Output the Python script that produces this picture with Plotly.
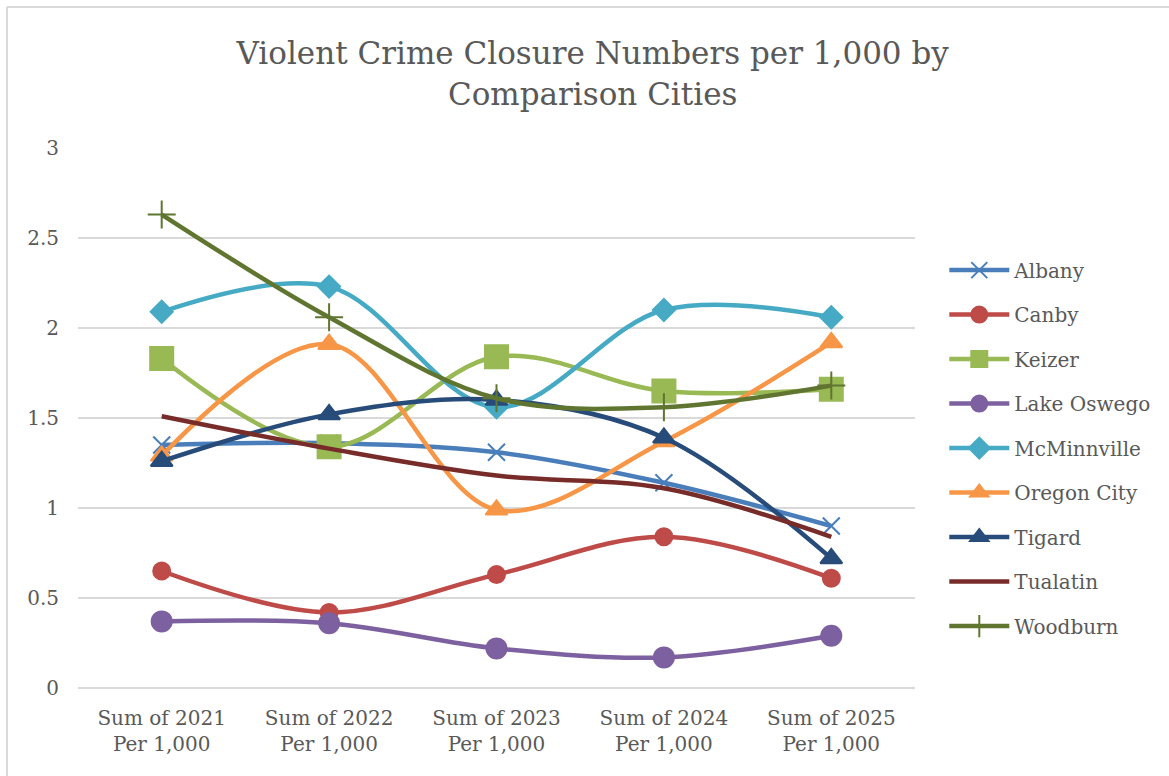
import plotly.graph_objects as go

categories = ["Sum of 2021<br>Per 1,000", "Sum of 2022<br>Per 1,000", "Sum of 2023<br>Per 1,000",
              "Sum of 2024<br>Per 1,000", "Sum of 2025<br>Per 1,000"]
y_ticks = [0, 0.5, 1, 1.5, 2, 2.5, 3]
y_tick_labels = ["0", "0.5", "1", "1.5", "2", "2.5", "3"]

albany = [1.35, 1.36, 1.31, 1.14, 0.90]
canby = [0.65, 0.42, 0.63, 0.84, 0.61]
keizer = [1.83, 1.34, 1.84, 1.65, 1.66]
lake_oswego = [0.37, 0.36, 0.22, 0.17, 0.29]
mcminnville = [2.09, 2.23, 1.56, 2.10, 2.06]
oregon_city = [1.29, 1.91, 0.99, 1.37, 1.92]
tigard = [1.26, 1.52, 1.60, 1.39, 0.72]
tualatin = [1.51, 1.33, 1.18, 1.11, 0.84]
woodburn = [2.63, 2.06, 1.61, 1.56, 1.68]

series = [
    ("Albany", albany, "#4A7EBB", "x-thin", 17),
    ("Canby", canby, "#BE4B48", "circle", 17),
    ("Keizer", keizer, "#98B954", "square", 23),
    ("Lake Oswego", lake_oswego, "#7D60A0", "circle", 20),
    ("McMinnville", mcminnville, "#46AAC5", "diamond", 17),
    ("Oregon City", oregon_city, "#F79646", "triangle-up", 19),
    ("Tigard", tigard, "#284C7A", "triangle-up", 19),
    ("Tualatin", tualatin, "#772C2A", None, 0),
    ("Woodburn", woodburn, "#5F7530", "cross-thin", 20),
]

fig = go.Figure()
for name, vals, color, sym, size in series:
    if sym is None:
        mode = "lines"
        marker = dict()
    else:
        mode = "lines+markers"
        marker = dict(symbol=sym, size=size, color=color,
                      line=dict(color=color, width=2))
    fig.add_trace(go.Scatter(
        x=categories, y=vals, name=name, mode=mode,
        line=dict(color=color, width=4.5, shape="spline", smoothing=1.0),
        marker=marker, legendgroup=name,
    ))

font_family = "DejaVu Serif, Liberation Serif, serif"

fig.update_layout(
    width=1169, height=776,
    paper_bgcolor="white", plot_bgcolor="white",
    margin=dict(l=78, r=254, t=148, b=88),
    title=dict(text="Violent Crime Closure Numbers per 1,000 by<br>Comparison Cities",
               x=0.507, xanchor="center", y=0.917, yanchor="middle",
               font=dict(family=font_family, size=31, color="#595959")),
    font=dict(family=font_family, color="#595959"),
    showlegend=True,
    legend=dict(x=1.035, y=0.81, xanchor="left", yanchor="top",
                font=dict(family=font_family, size=20, color="#595959"),
                tracegroupgap=15.5, itemwidth=60),
    xaxis=dict(range=[-0.5, 4.5], showgrid=False, showline=False, ticks="", automargin=False,
               ticklabelstandoff=16,
               tickfont=dict(family=font_family, size=20, color="#595959")),
    yaxis=dict(range=[0, 3], tickvals=y_ticks, ticktext=y_tick_labels,
               showgrid=True, gridcolor="#D9D9D9", gridwidth=1.5,
               zeroline=True, zerolinecolor="#D9D9D9", zerolinewidth=1.5,
               showline=False, ticks="", ticklabelstandoff=18, automargin=False,
               tickfont=dict(family=font_family, size=20, color="#595959")),
)

fig.add_shape(type="line", xref="paper", yref="paper",
              x0=(7 - 78) / 837, x1=(7 - 78) / 837,
              y0=(688 - 776) / 540, y1=(688 - 7) / 540,
              line=dict(color="#D9D9D9", width=2), layer="below")
fig.add_shape(type="line", xref="paper", yref="paper",
              x0=(7 - 78) / 837, x1=(1169 - 78) / 837,
              y0=(688 - 7) / 540, y1=(688 - 7) / 540,
              line=dict(color="#D9D9D9", width=2), layer="below")

fig.write_html("out.html", config={"displayModeBar": False},
               post_script="document.body.style.margin='0';")
